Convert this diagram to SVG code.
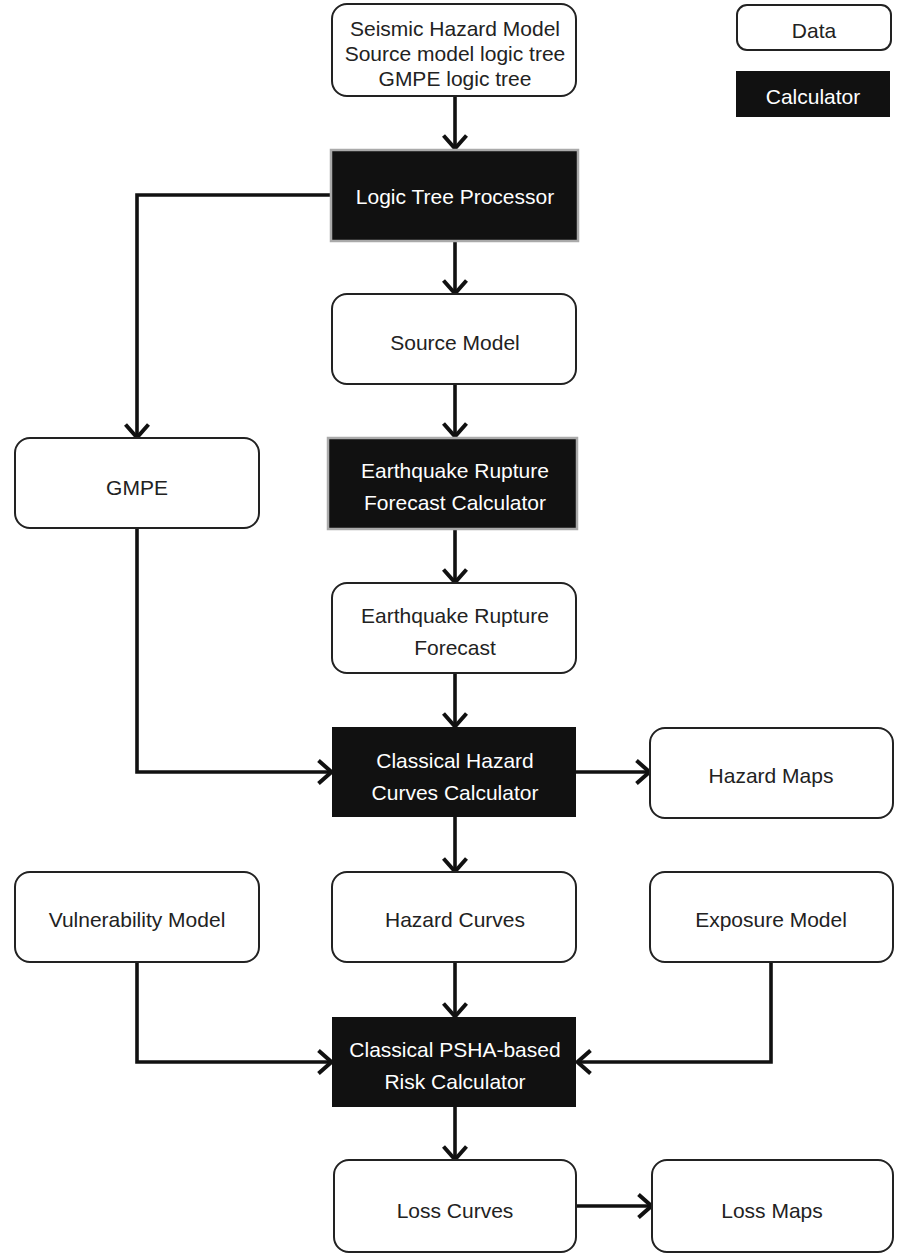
<svg xmlns="http://www.w3.org/2000/svg" width="897" height="1257" viewBox="0 0 897 1257">
<style>
.data{fill:#fff;stroke:#222;stroke-width:2}
.calc{fill:#111;stroke:none}
.calcg{fill:#111;stroke:#aaa;stroke-width:2.5}
text{font-family:"Liberation Sans",Arial,sans-serif;font-size:21px;text-anchor:middle}
.dt{fill:#222}
.ct{fill:#fff}
.conn{fill:none;stroke:#111;stroke-width:3.6}
</style>
<defs>
<marker id="arr" viewBox="0 0 18 28" refX="16" refY="14" markerWidth="18" markerHeight="28" markerUnits="userSpaceOnUse" orient="auto">
<path d="M2.5,2.5 L15.5,14 L2.5,25.5" fill="none" stroke="#111" stroke-width="4"/>
</marker>
</defs>
<g id="connectors">
<path class="conn" d="M455,96 V149" marker-end="url(#arr)"/>
<path class="conn" d="M455,241 V294" marker-end="url(#arr)"/>
<path class="conn" d="M455,384 V437" marker-end="url(#arr)"/>
<path class="conn" d="M455,530 V583" marker-end="url(#arr)"/>
<path class="conn" d="M455,673 V727" marker-end="url(#arr)"/>
<path class="conn" d="M455,817 V872" marker-end="url(#arr)"/>
<path class="conn" d="M455,962 V1017" marker-end="url(#arr)"/>
<path class="conn" d="M455,1107 V1160" marker-end="url(#arr)"/>
<path class="conn" d="M332,195 H137 V438" marker-end="url(#arr)"/>
<path class="conn" d="M137,528 V772 H332" marker-end="url(#arr)"/>
<path class="conn" d="M576,772 H650" marker-end="url(#arr)"/>
<path class="conn" d="M137,962 V1062 H332" marker-end="url(#arr)"/>
<path class="conn" d="M771,962 V1062 H577" marker-end="url(#arr)"/>
<path class="conn" d="M576,1206 H652" marker-end="url(#arr)"/>
</g>
<g id="seismic-hazard-model">
<rect class="data" x="332" y="4" width="244" height="92" rx="15"/>
<text class="dt" x="455" y="36">Seismic Hazard Model</text>
<text class="dt" x="455" y="61">Source model logic tree</text>
<text class="dt" x="455" y="86">GMPE logic tree</text>
</g>
<g id="legend-data">
<rect class="data" x="737" y="5" width="154" height="45" rx="10"/>
<text class="dt" x="814" y="38">Data</text>
</g>
<g id="legend-calculator">
<rect class="calc" x="736" y="71" width="154" height="46"/>
<text class="ct" x="813" y="104">Calculator</text>
</g>
<g id="logic-tree-processor">
<rect class="calcg" x="331" y="150" width="247" height="91"/>
<text class="ct" x="455" y="204">Logic Tree Processor</text>
</g>
<g id="source-model">
<rect class="data" x="332" y="294" width="244" height="90" rx="15"/>
<text class="dt" x="455" y="350">Source Model</text>
</g>
<g id="gmpe">
<rect class="data" x="15" y="438" width="244" height="90" rx="15"/>
<text class="dt" x="137" y="495">GMPE</text>
</g>
<g id="erf-calculator">
<rect class="calcg" x="328" y="438" width="249" height="91"/>
<text class="ct" x="455" y="478">Earthquake Rupture</text>
<text class="ct" x="455" y="510">Forecast Calculator</text>
</g>
<g id="erf">
<rect class="data" x="332" y="583" width="244" height="90" rx="15"/>
<text class="dt" x="455" y="623">Earthquake Rupture</text>
<text class="dt" x="455" y="655">Forecast</text>
</g>
<g id="classical-hazard-curves-calculator">
<rect class="calc" x="332" y="727" width="244" height="90"/>
<text class="ct" x="455" y="768">Classical Hazard</text>
<text class="ct" x="455" y="800">Curves Calculator</text>
</g>
<g id="hazard-maps">
<rect class="data" x="650" y="728" width="243" height="90" rx="15"/>
<text class="dt" x="771" y="783">Hazard Maps</text>
</g>
<g id="vulnerability-model">
<rect class="data" x="15" y="872" width="244" height="90" rx="15"/>
<text class="dt" x="137" y="927">Vulnerability Model</text>
</g>
<g id="hazard-curves">
<rect class="data" x="332" y="872" width="244" height="90" rx="15"/>
<text class="dt" x="455" y="927">Hazard Curves</text>
</g>
<g id="exposure-model">
<rect class="data" x="650" y="872" width="243" height="90" rx="15"/>
<text class="dt" x="771" y="927">Exposure Model</text>
</g>
<g id="risk-calculator">
<rect class="calc" x="332" y="1017" width="244" height="90"/>
<text class="ct" x="455" y="1057">Classical PSHA-based</text>
<text class="ct" x="455" y="1089">Risk Calculator</text>
</g>
<g id="loss-curves">
<rect class="data" x="334" y="1160" width="242" height="92" rx="15"/>
<text class="dt" x="455" y="1218">Loss Curves</text>
</g>
<g id="loss-maps">
<rect class="data" x="652" y="1160" width="241" height="92" rx="15"/>
<text class="dt" x="772" y="1218">Loss Maps</text>
</g>
</svg>
